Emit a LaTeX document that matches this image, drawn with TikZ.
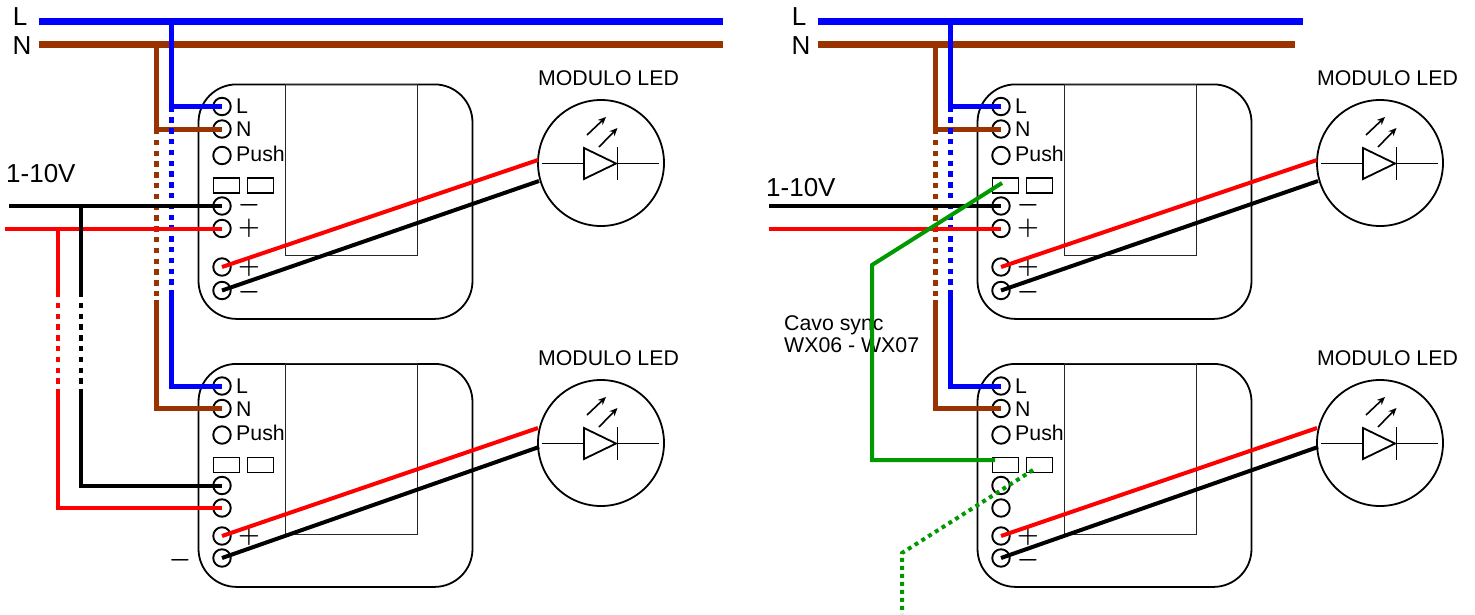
\documentclass[tikz,border=0pt]{standalone}
\usepackage{fontspec}
\setmainfont{Liberation Sans}
\usetikzlibrary{arrows.meta}
\definecolor{wblue}{RGB}{0,0,255}
\definecolor{wbrown}{RGB}{153,51,0}
\definecolor{wred}{RGB}{255,0,0}
\definecolor{wgreen}{RGB}{0,153,0}
\tikzset{
  term/.style={circle,draw,minimum size=17.5pt,inner sep=0pt,line width=1.9pt},
  body/.style={draw,rounded corners=38pt,minimum width=274pt,inner sep=0pt,line width=1.8pt},
  inner/.style={draw=black!85,minimum width=132pt,minimum height=171pt,inner sep=0pt,line width=1.2pt},
  slot/.style={draw,minimum width=26.5pt,minimum height=15pt,inner sep=0pt,line width=1.2pt},
  lab/.style={inner sep=0pt,font=\fontsize{21.3}{21.3}\selectfont},
  biglab/.style={inner sep=0pt,font=\fontsize{26}{26}\selectfont},
  sign/.style={inner sep=0pt,font=\fontsize{29}{29}\selectfont\boldmath},
  bus/.style={line width=7pt},
  feed/.style={line width=5pt},
  sig/.style={line width=4pt},
  dots/.style={dash pattern=on 5.4pt off 5.4pt},
  led/.style={circle,draw,minimum size=126pt,inner sep=0pt,line width=1.8pt},
  part/.style={line width=1.8pt},
  ray/.style={line width=1.6pt,-{Stealth[length=8pt,width=7pt]}},
}
% device: name, dx, dy, body height, y of output +, y of output -
\newcommand{\devbox}[6]{%
  \begin{scope}[shift={(#2,#3)}]
    \node[body,minimum height=#4pt,anchor=north] (#1-body) at (335.5,83.5) {};
    \node[inner,anchor=north west] (#1-inner) at (285,83.5) {};
    \node[term] (#1-L) at (222,106.5) {};
    \node[term] (#1-N) at (222,129) {};
    \node[term] (#1-P) at (222,155.5) {};
    \node[term] (#1-m) at (222,206) {};
    \node[term] (#1-p) at (222,228.5) {};
    \node[term] (#1-op) at (222,#5) {};
    \node[term] (#1-om) at (222,#6) {};
    \node[slot] (#1-s1) at (226.5,185.5) {};
    \node[slot] (#1-s2) at (260.5,185.5) {};
    \node[lab,anchor=west] (#1-tL) at (236,106.5) {L};
    \node[lab,anchor=west] (#1-tN) at (236,129.5) {N};
    \node[lab,anchor=west] (#1-tP) at (236,153.5) {Push};
  \end{scope}}
% LED module: name, dx, dy, y of red end, y of black end (absolute)
\newcommand{\ledmod}[5]{%
  \begin{scope}[shift={(#2,0)}]
    \coordinate (#1-r) at (538,#4);
    \coordinate (#1-b) at (539,#5);
  \end{scope}
  \begin{scope}[shift={(#2,#3)}]
    \node[led] (#1) at (601,163) {};
    \node[lab] (#1-title) at (608.5,78) {MODULO LED};
    \draw[part] (542,163.5) -- (584,163.5);
    \draw[part,line join=miter] (584,148) -- (584,179) -- (616,163.5) -- cycle;
    \draw[part] (617.5,147) -- (617.5,180);
    \draw[part] (617.5,163.5) -- (659,163.5);
    \draw[ray] (587,135) -- (606,117);
    \draw[ray] (599,147) -- (617.5,128);
  \end{scope}}
\begin{document}
\begin{tikzpicture}[x=1pt,y=-1pt]
\useasboundingbox (0,0) rectangle (1475,614);
% devices
\devbox{A}{0}{0}{234.5}{267}{290.5}
\devbox{B}{0}{279.5}{223}{256.5}{278.5}
\devbox{C}{779}{0}{234.5}{267}{290.5}
\devbox{D}{779}{279.5}{223}{256.5}{278.5}
\ledmod{LA}{0}{0}{160}{181}
\ledmod{LB}{0}{280}{428}{447}
\ledmod{LC}{779}{0}{160}{181}
\ledmod{LD}{779}{280}{428}{447}
% labels
\node[biglab] (tL1) at (20,17) {L};
\node[biglab] (tN1) at (22,46) {N};
\node[biglab] (tL2) at (799,17) {L};
\node[biglab] (tN2) at (801,46) {N};
\node[biglab,anchor=west] (tV1) at (6,174) {1-10V};
\node[biglab,anchor=west] (tV2) at (766,188) {1-10V};
\node[lab,anchor=north west,align=left] (sync) at (784,315) {Cavo sync\\[1.5pt]WX06 - WX07};
% signs
\foreach \nm/\x/\y in {a2/249/228,a3/249/267,b3/249/536,c2/1028/228,c3/1028/267,d3/1028/536.5}
  \node[sign] (sg\nm) at (\x,\y) {$+$};
\foreach \nm/\x/\y in {a1/249/205,a4/249/292,b4/180/560,c1/1028/205,c4/1028/292,d4/1028/560}
  \node[sign] (sg\nm) at (\x,\y) {$-$};
% buses
\coordinate (L1a) at (39,21); \coordinate (L1b) at (723,21);
\coordinate (N1a) at (39,44); \coordinate (N1b) at (723,44);
\coordinate (L2a) at (818,21); \coordinate (L2b) at (1303,21);
\coordinate (N2a) at (818,44); \coordinate (N2b) at (1295,44);
\draw[bus,wblue] (L1a) -- (L1b);
\draw[bus,wbrown] (N1a) -- (N1b);
\draw[bus,wblue] (L2a) -- (L2b);
\draw[bus,wbrown] (N2a) -- (N2b);
% feeds, two panels
\foreach \t/\u/\dx in {A/B/0,C/D/779}{
  \begin{scope}[shift={(\dx,0)}]
    \coordinate (nt) at (156,44); \coordinate (lt) at (171,21);
    \coordinate (nd) at (156,300); \coordinate (ld) at (171,290);
    \draw[feed,wbrown,line join=miter] (nt) |- (\t-N.center);
    \draw[feed,wbrown,dots] (nt |- \t-N.center) -- (nd);
    \draw[feed,wbrown,line join=miter] (nd) |- (\u-N.center);
    \draw[feed,wblue,line join=miter] (lt) |- (\t-L.center);
    \draw[feed,wblue,dots] (lt |- \t-L.center) -- (ld);
    \draw[feed,wblue,line join=miter] (ld) |- (\u-L.center);
  \end{scope}
}
% 1-10V
\coordinate (k1x) at (9,0); \coordinate (r1x) at (5,0);
\coordinate (k2x) at (769,0); \coordinate (r2x) at (769,0);
\coordinate (kt) at (81,206); \coordinate (ku) at (81,292); \coordinate (kl) at (81,394);
\coordinate (rt) at (58,229); \coordinate (ru) at (58,292); \coordinate (rl) at (58,394);
\draw[sig] (k1x |- A-m.center) -- (A-m.center);
\draw[sig,wred] (r1x |- A-p.center) -- (A-p.center);
\draw[sig] (kt) -- (ku);
\draw[sig,dots] (ku) -- (kl);
\draw[sig,line join=miter] (kl) |- (B-m.center);
\draw[sig,wred] (rt) -- (ru);
\draw[sig,wred,dots] (ru) -- (rl);
\draw[sig,wred,line join=miter] (rl) |- (B-p.center);
\draw[sig] (k2x |- C-m.center) -- (C-m.center);
\draw[sig,wred] (r2x |- C-p.center) -- (C-p.center);
% outputs
\foreach \t/\l in {A/LA,B/LB,C/LC,D/LD}{
  \draw[sig,wred] (\t-op.center) -- (\l-r);
  \draw[sig] (\t-om.center) -- (\l-b);
}
% sync cable
\coordinate (g1) at (1002,183); \coordinate (g2) at (872,265); \coordinate (g3) at (872,460);
\coordinate (g4) at (995,460);
\coordinate (g5) at (1033,470); \coordinate (g6) at (902,553); \coordinate (g7) at (902,614);
\draw[sig,wgreen,line join=miter] (g1) -- (g2) -- (g3) -- (g4);
\draw[sig,wgreen,dash pattern=on 4pt off 4pt] (g5) -- (g6) -- (g7);
\end{tikzpicture}
\end{document}
